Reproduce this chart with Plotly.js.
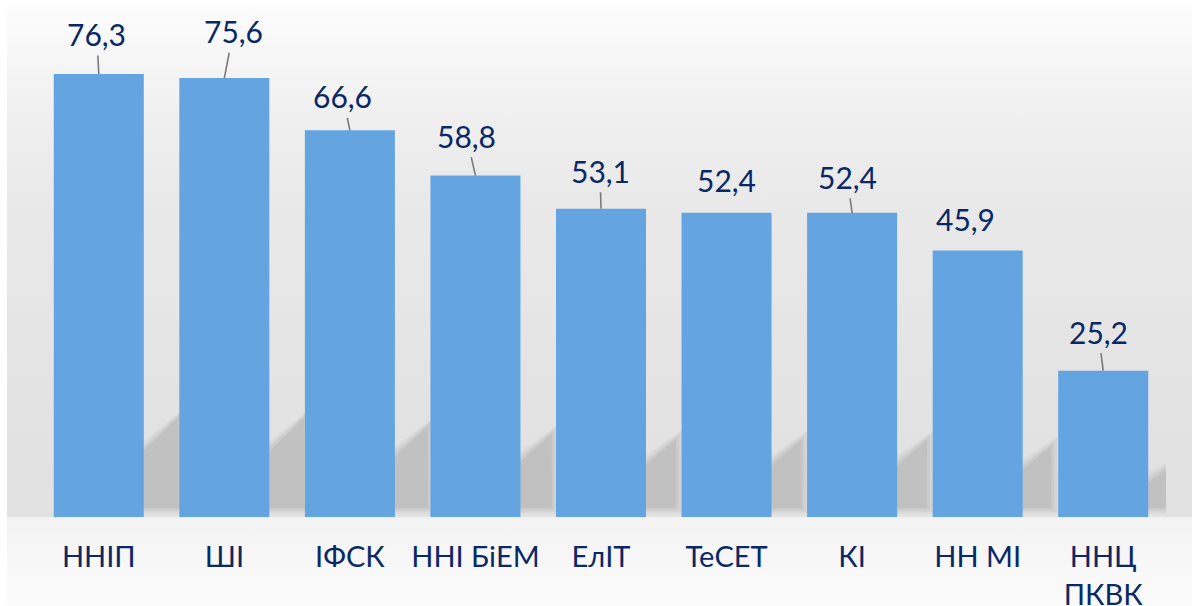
<!DOCTYPE html>
<html><head><meta charset="utf-8">
<script src="https://cdn.plot.ly/plotly-3.0.1.min.js"></script>
<style>
html,body{margin:0;padding:0;width:1192px;height:606px;overflow:hidden;background:#ffffff}
#bg{position:absolute;left:7px;top:7px;width:1185px;height:599px;
background:linear-gradient(to bottom,#fcfcfc 0px,#efefef 113px,#e9e9e9 193px,#e3e3e3 393px,#e1e1e1 509px,#f3f3f3 511px,#fbfbfb 599px);}
#chart{position:absolute;left:0;top:0;width:1192px;height:606px}
</style></head><body>
<div id="bg"></div><div id="chart"></div>
<script>
// ---- data ----
const categories = ["ННІП", "ШІ", "ІФСК", "ННІ БіЕМ", "ЕлІТ", "ТеСЕТ", "КІ", "НН МІ", "ННЦ<br>ПКВК"];
const values = [76.3, 75.6, 66.6, 58.8, 53.1, 52.4, 52.4, 45.9, 25.2];
const valueLabels = ["76,3", "75,6", "66,6", "58,8", "53,1", "52,4", "52,4", "45,9", "25,2"];

// ---- label placement (layout config) ----
const labelOffsets = [[-2,-40],[9,-47],[-7,-34],[-9,-40],[-1,-38],[0,-33],[-5,-36],[-12,-32],[-5,-39]];
const hasLeader = [true,true,true,true,true,false,true,false,true];

const navy = '#0A2866';
const barColor = '#64A5E1';
const fontFam = 'Lato, "Open Sans", sans-serif';
const xs = categories.map((c, i) => i);
const halfW = 0.3585;

const annotations = values.map((v, i) => ({
  x: xs[i], y: v, xref: 'x', yref: 'y',
  text: valueLabels[i],
  showarrow: true, arrowhead: 0, arrowwidth: 1.6,
  arrowcolor: hasLeader[i] ? '#7a7a7a' : 'rgba(0,0,0,0)',
  ax: labelOffsets[i][0], ay: labelOffsets[i][1],
  startstandoff: 2, standoff: 0,
  font: {family: fontFam, size: 30, color: navy}
}));

// soft perspective shadows behind bars, built from the bar values
const shapes = [];
const layers = [[0.07, 1.6, 0.06], [0.045, 1.0, 0.07], [0.02, 0.4, 0.09], [0, -0.3, 0.11]];
values.forEach((v, i) => {
  const xr = xs[i] + halfW;
  const ext = 0.15 + 0.0017 * v;
  layers.forEach(([dx, dy, op]) => {
    const x0 = xr - 0.05, x1 = xr + ext + dx;
    const yb = 1.4 - dy * 0.5;
    const ytl = 3.0 + 0.1 * v + dy;
    const ytr = 5.0 + 0.165 * v + dy;
    shapes.push({
      type: 'path', xref: 'x', yref: 'y', layer: 'below',
      path: `M ${x0} ${yb} L ${x1} ${yb} L ${x1} ${ytr} L ${x0} ${ytl} Z`,
      fillcolor: '#7a7a7a', opacity: op, line: {width: 0}
    });
  });
});

const trace = {
  type: 'bar', x: xs, y: values,
  marker: {color: barColor, line: {width: 0}},
  width: 0.717, hoverinfo: 'skip'
};

const layout = {
  width: 1192, height: 606,
  margin: {l: 36, r: 26, t: 30, b: 89},
  paper_bgcolor: 'rgba(0,0,0,0)', plot_bgcolor: 'rgba(0,0,0,0)',
  showlegend: false,
  xaxis: {
    range: [-0.5, 8.5], tickmode: 'array', tickvals: xs, ticktext: categories,
    showgrid: false, zeroline: false, showline: false, ticks: '',
    ticklabelstandoff: 20,
    tickfont: {family: fontFam, size: 29, color: navy}, fixedrange: true
  },
  yaxis: {range: [0, 83.88], visible: false, showgrid: false, zeroline: false, fixedrange: true},
  annotations: annotations,
  shapes: shapes
};

Plotly.newPlot('chart', [trace], layout, {displayModeBar: false, staticPlot: true});
</script>
</body></html>
